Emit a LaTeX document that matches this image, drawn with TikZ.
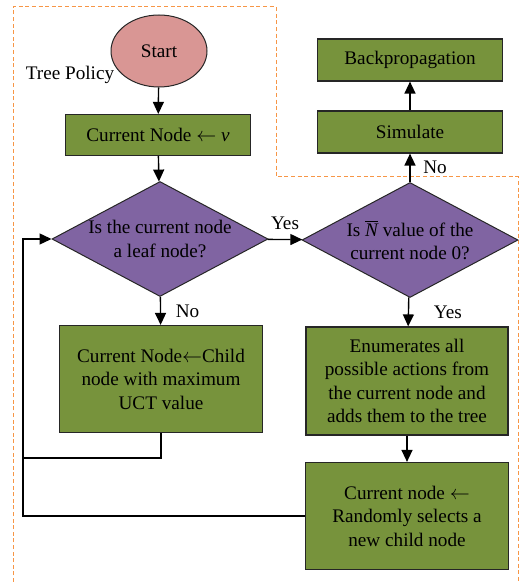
\documentclass[tikz,border=0pt]{standalone}
\usepackage{fontspec}
\setmainfont{Liberation Serif}
\definecolor{mcgreen}{RGB}{119,147,60}
\definecolor{mcpurple}{RGB}{128,100,162}
\definecolor{mcpink}{RGB}{217,150,148}
\definecolor{mcorange}{RGB}{247,150,70}
\usetikzlibrary{arrows.meta,positioning,shapes.geometric}

\begin{document}
\begin{tikzpicture}[x=0.5pt,y=-0.5pt,
  every node/.style={font=\fontsize{9.6}{11.75}\selectfont},
  box/.style={draw=black!85,fill=mcgreen,line width=0.6pt,align=center,inner sep=0pt},
  decide/.style={diamond,draw=black!85,fill=mcpurple,line width=0.5pt,align=center,inner sep=0pt,
    minimum width=108pt,minimum height=57.5pt,shape aspect=1.88},
  arr/.style={-{Triangle[length=6pt,width=5.5pt]},line width=0.7pt},
  link/.style={line width=0.7pt}]
  \useasboundingbox (0,0) rectangle (519,582);
  % tree policy region
  \draw[mcorange,line width=0.5pt,dash pattern=on 2pt off 1.3pt]
    (13,582) -- (13,7) -- (276,7) -- (276,177) -- (518,177) -- (518,582);
  \node[ellipse,draw=black!85,fill=mcpink,line width=0.5pt,minimum width=48pt,minimum height=36pt] (start) at (159,51) {Start};
  \node (policy) at (70,75) {Tree Policy};
  \node[box,minimum width=92.5pt,minimum height=20.5pt] (cur) at (158,135) {Current Node $\leftarrow$ \textit{v}};
  \node[decide] (leaf) at (160,239) {Is the current node\\a leaf node?};
  \node[decide] (zero) at (410,240) {Is $\overline{\textit{N}}$ value of the\\current node 0?};
  \node[box,minimum width=101.5pt,minimum height=53.5pt] (child) at (161,379) {Current Node$\leftarrow$Child\\node with maximum\\UCT value};
  \node[box,minimum width=101pt,minimum height=54pt] (enum) at (407,381) {Enumerates all\\possible actions from\\the current node and\\adds them to the tree};
  \node[box,minimum width=101.5pt,minimum height=53.5pt] (rand) at (407,516) {Current node $\leftarrow$\\Randomly selects a\\new child node};
  \node[box,minimum width=92.5pt,minimum height=21pt] (sim) at (410,132) {Simulate};
  \node[box,minimum width=92.5pt,minimum height=21pt] (back) at (410,60) {Backpropagation};
  % connectors
  \coordinate (loopa) at (23,458);
  \coordinate (loop) at (23,239);
  \draw[arr] (start) -- (cur);
  \draw[arr] (cur) -- (leaf);
  \draw[arr] (leaf) -- node[above=1pt] (yesa) {Yes} (zero);
  \draw[arr] (leaf) -- node[right=4pt] (noa) {No} (child);
  \draw[arr] (zero) -- node[right=9pt] (yesb) {Yes} (enum);
  \draw[arr] (zero) -- node[right=3pt] (nob) {No} (sim);
  \draw[arr] (sim) -- (back);
  \draw[arr] (enum) -- (rand);
  \draw[link] (child.south) |- (loopa);
  \draw[arr] (rand.west) -| (loop) -- (leaf.west);
\end{tikzpicture}
\end{document}
